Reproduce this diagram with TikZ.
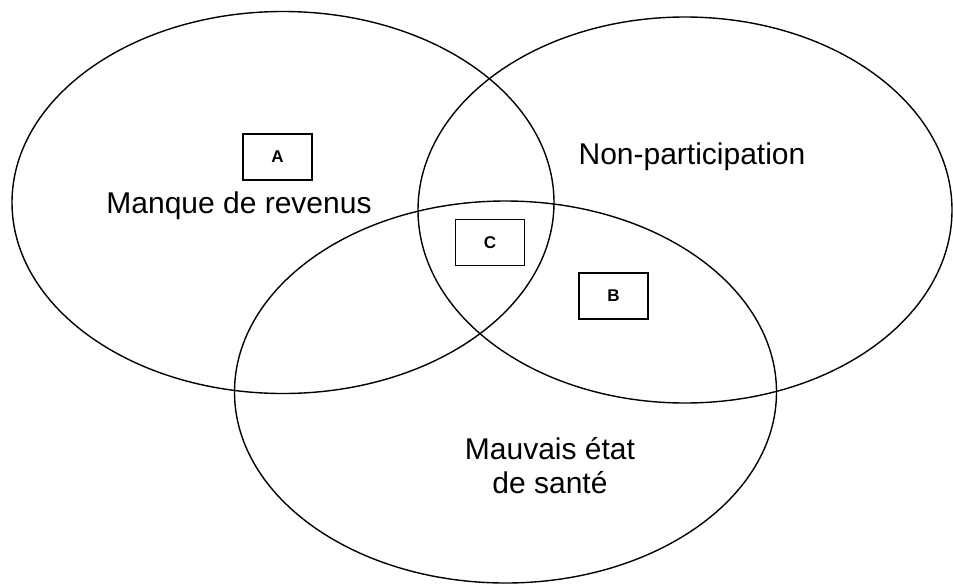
\documentclass[tikz,border=0pt]{standalone}
\usepackage{fontspec}
\setmainfont{Liberation Sans}
\usetikzlibrary{shapes.geometric}
\usetikzlibrary{positioning}

\begin{document}
\begin{tikzpicture}[
    y = -1pt,
    x = 1pt,
    font = \fontsize{30}{34}\selectfont,
    setf/.style = {
      ellipse,
      draw=black,
      line width=1.4pt,
      minimum width=542pt,
      minimum height=382pt,
      inner sep=0pt
    },
    zonef/.style = {
      rectangle,
      draw=black,
      line width=1.4pt,
      minimum width=69pt,
      minimum height=46pt,
      inner sep=0pt,
      font=\fontsize{17}{20}\selectfont\bfseries
    },
    labelf/.style = {
      anchor=base,
      align=center,
      inner sep=0pt
    }
  ]
    \useasboundingbox (0,0) rectangle (953,584);

    \node[setf] (revenus) at (283,202.5) {};
    \node[setf, minimum width=534pt, minimum height=386pt] (participation) at (685,210) {};
    \node[setf] (sante) at (505.5,392) {};

    \node[zonef] (a) at (277.5,157) {A};
    \node[zonef] (c) at (490,242.5) {C};
    \node[zonef] (b) at (613.5,296) {B};

    \node[labelf] (manque) at (239,213) {Manque de revenus};
    \node[labelf] (nonpart) at (692,164) {Non-participation};
    \node[labelf] (mauvais) at (550,493) {Mauvais état\\de santé};

  \end{tikzpicture}
\end{document}
